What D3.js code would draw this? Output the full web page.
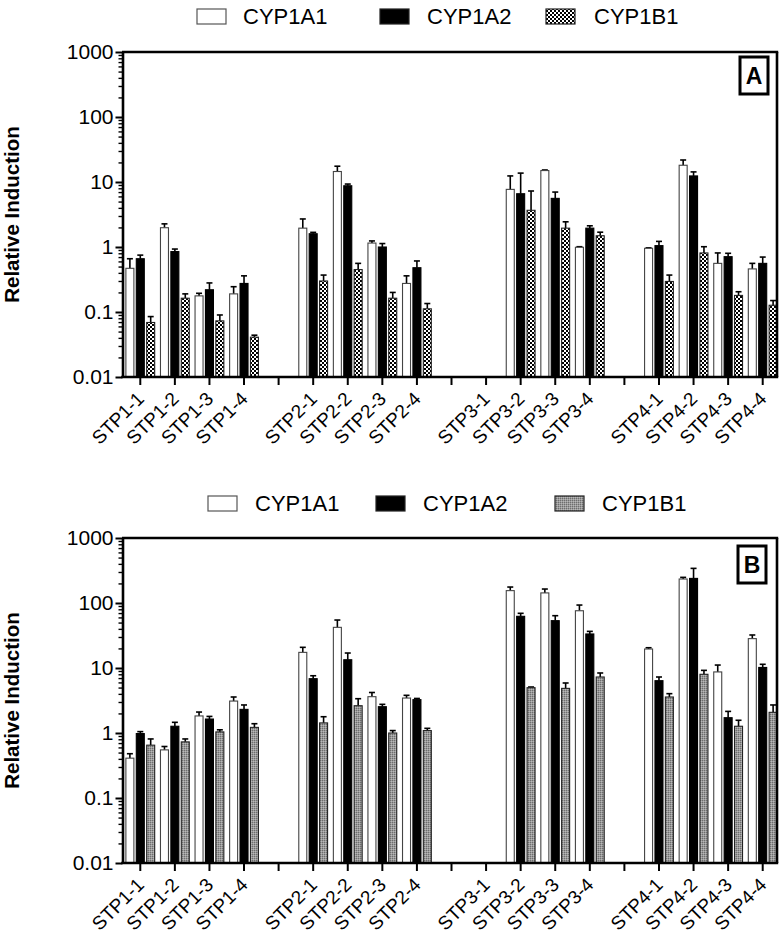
<!DOCTYPE html>
<html>
<head>
<meta charset="utf-8">
<script src="https://cdn.jsdelivr.net/npm/d3@7"></script>
<style>
  html, body { margin: 0; padding: 0; background: #fff; }
  svg { display: block; font-family: "Liberation Sans", Arial, sans-serif; }
</style>
</head>
<body>
<svg id="chart" width="779" height="936"></svg>
<script>
// ---------------- data ----------------
const categories = ["STP1-1","STP1-2","STP1-3","STP1-4","",
                    "STP2-1","STP2-2","STP2-3","STP2-4","",
                    "STP3-1","STP3-2","STP3-3","STP3-4","",
                    "STP4-1","STP4-2","STP4-3","STP4-4"];
const seriesNames = ["CYP1A1","CYP1A2","CYP1B1"];
const yTickValues = [0.01, 0.1, 1, 10, 100, 1000];
const yTickLabels = ["0.01","0.1","1","10","100","1000"];

// Panel A
const A_CYP1A1     = [0.47, 1.98, 0.177, 0.19, null, 1.95, 14.5, 1.15, 0.275, null, null, 7.7, 15.0, 0.99, null, 0.955, 18.1, 0.56, 0.46];
const A_CYP1A1_err = [0.19, 0.29, 0.017, 0.055, null, 0.75, 3.0, 0.09, 0.085, null, null, 4.7, 0.3, 0.02, null, 0.015, 3.7, 0.25, 0.10];
const A_CYP1A2     = [0.66, 0.85, 0.22, 0.275, null, 1.6, 8.75, 1.0, 0.48, null, null, 6.6, 5.6, 1.95, null, 1.05, 12.4, 0.71, 0.56];
const A_CYP1A2_err = [0.09, 0.08, 0.06, 0.085, null, 0.08, 0.55, 0.13, 0.13, null, null, 7.1, 1.4, 0.17, null, 0.17, 1.9, 0.09, 0.14];
const A_CYP1B1     = [0.069, 0.163, 0.073, 0.041, null, 0.30, 0.45, 0.163, 0.112, null, null, 3.67, 1.95, 1.49, null, 0.295, 0.81, 0.18, 0.127];
const A_CYP1B1_err = [0.016, 0.027, 0.017, 0.003, null, 0.07, 0.11, 0.037, 0.023, null, null, 3.6, 0.49, 0.2, null, 0.075, 0.2, 0.025, 0.023];

// Panel B
const B_CYP1A1     = [0.41, 0.55, 1.83, 3.1, null, 17.4, 42.2, 3.62, 3.45, null, null, 155, 143, 76, null, 19.6, 234, 8.7, 28.3];
const B_CYP1A1_err = [0.07, 0.07, 0.27, 0.48, null, 3.4, 12.5, 0.58, 0.35, null, null, 21, 21, 17, null, 0.9, 14, 2.4, 3.9];
const B_CYP1A2     = [0.98, 1.27, 1.64, 2.31, null, 6.85, 13.4, 2.54, 3.26, null, null, 62.4, 53.5, 33.4, null, 6.38, 239, 1.72, 10.2];
const B_CYP1A2_err = [0.07, 0.19, 0.16, 0.39, null, 0.75, 3.6, 0.22, 0.14, null, null, 7, 10.3, 3.2, null, 0.89, 102, 0.43, 1.2];
const B_CYP1B1     = [0.65, 0.73, 1.04, 1.22, null, 1.43, 2.63, 1.0, 1.09, null, null, 4.98, 4.86, 7.27, null, 3.58, 8.0, 1.27, 2.08];
const B_CYP1B1_err = [0.16, 0.08, 0.08, 0.17, null, 0.35, 0.74, 0.09, 0.09, null, null, 0.12, 1.02, 1.11, null, 0.45, 1.2, 0.3, 0.62];

// ---------------- drawing ----------------
const svg = d3.select("#chart");
const defs = svg.append("defs");

// checkerboard pattern (panel A)
const pa = defs.append("pattern").attr("id","checker").attr("patternUnits","userSpaceOnUse")
  .attr("width",4).attr("height",4);
pa.append("rect").attr("width",4).attr("height",4).attr("fill","#fff");
pa.append("rect").attr("width",2).attr("height",2).attr("fill","#000");
pa.append("rect").attr("x",2).attr("y",2).attr("width",2).attr("height",2).attr("fill","#000");

// fine gray pattern (panel B)
const pb = defs.append("pattern").attr("id","gray").attr("patternUnits","userSpaceOnUse")
  .attr("width",2).attr("height",2);
pb.append("rect").attr("width",2).attr("height",2).attr("fill","#9a9a9a");
pb.append("rect").attr("width",1).attr("height",1).attr("fill","#6e6e6e");
pb.append("rect").attr("x",1).attr("y",1).attr("width",1).attr("height",1).attr("fill","#b8b8b8");

const xLeft = 123, xRight = 780, frameRight = 777;
const x = d3.scaleBand().domain(d3.range(categories.length)).range([xLeft, xRight]).padding(0);
const xs = d3.scaleBand().domain(seriesNames).range([-14.4, 14.4]).paddingInner(0.23).paddingOuter(0);

function drawPanel(cfg) {
  const g = svg.append("g");
  const y = d3.scaleLog().domain([0.01, 1000]).range([cfg.bottom, cfg.top]);

  // legend
  const fills = ["#fff", "#000", cfg.pattern];
  seriesNames.forEach((name, i) => {
    g.append("rect").attr("x", cfg.legBox[i]).attr("y", cfg.legY - 15)
      .attr("width", 29).attr("height", 15)
      .attr("fill", fills[i]).attr("stroke", i === 0 ? "#555" : "#222").attr("stroke-width", 1.2);
    g.append("text").attr("x", cfg.legText[i]).attr("y", cfg.legY)
      .attr("font-size", 22).attr("fill", "#000").text(name);
  });

  // bars
  const series = [
    {name: seriesNames[0], vals: cfg.s1, err: cfg.e1, fill: "#fff", stroke: "#444"},
    {name: seriesNames[1], vals: cfg.s2, err: cfg.e2, fill: "#000", stroke: "#000"},
    {name: seriesNames[2], vals: cfg.s3, err: cfg.e3, fill: cfg.pattern, stroke: "#222"}
  ];
  series.forEach(s => {
    const data = s.vals.map((v, i) => ({i, v, e: s.err[i]})).filter(d => d.v != null);
    const cx = d => x(d.i) + x.bandwidth() / 2 + xs(s.name) + xs.bandwidth() / 2;
    // error bars
    g.selectAll(null).data(data).enter().append("line")
      .attr("x1", cx).attr("x2", cx)
      .attr("y1", d => y(d.v)).attr("y2", d => y(d.v + d.e))
      .attr("stroke", "#000").attr("stroke-width", 1.6);
    g.selectAll(null).data(data).enter().append("line")
      .attr("x1", d => cx(d) - 3).attr("x2", d => cx(d) + 3)
      .attr("y1", d => y(d.v + d.e)).attr("y2", d => y(d.v + d.e))
      .attr("stroke", "#000").attr("stroke-width", 1.6);
    g.selectAll(null).data(data).enter().append("rect")
      .attr("x", d => x(d.i) + x.bandwidth() / 2 + xs(s.name))
      .attr("width", xs.bandwidth())
      .attr("y", d => y(d.v))
      .attr("height", d => y(0.01) - y(d.v))
      .attr("fill", s.fill).attr("stroke", s.stroke).attr("stroke-width", 1.1);
  });

  // frame top and right
  g.append("line").attr("x1", xLeft - 1).attr("x2", frameRight + 1.2)
    .attr("y1", cfg.top).attr("y2", cfg.top).attr("stroke", "#000").attr("stroke-width", 2.6);
  g.append("line").attr("x1", frameRight).attr("x2", frameRight)
    .attr("y1", cfg.top).attr("y2", cfg.bottom).attr("stroke", "#000").attr("stroke-width", 2.6);

  // minor y ticks
  const minor = [];
  for (let e = -2; e < 3; e++) for (let k = 2; k <= 9; k++) minor.push(k * Math.pow(10, e));
  const yMinor = g.append("g").attr("transform", `translate(${xLeft - 0.5},0)`)
    .call(d3.axisLeft(y).tickValues(minor).tickSize(4).tickFormat(""));
  yMinor.select(".domain").remove();
  yMinor.selectAll("line").attr("stroke-width", 1.4);

  // major y axis
  const yAx = g.append("g").attr("transform", `translate(${xLeft - 0.5},0)`)
    .call(d3.axisLeft(y).tickValues(yTickValues).tickSize(7).tickSizeOuter(0).tickPadding(2)
      .tickFormat((d, i) => yTickLabels[i]));
  yAx.select(".domain").attr("stroke-width", 2.6);
  yAx.selectAll("line").attr("stroke-width", 2);
  yAx.selectAll("text").attr("font-size", 21).attr("fill", "#000").attr("font-family", "Liberation Sans, Arial, sans-serif");

  // x axis
  const xAx = g.append("g").attr("transform", `translate(0,${cfg.bottom})`)
    .call(d3.axisBottom(x).tickSize(8).tickSizeOuter(0).tickFormat(i => categories[i]));
  xAx.select(".domain").attr("stroke-width", 2.6).attr("d", `M${xLeft - 1.8},0H${frameRight + 1.2}`);
  xAx.selectAll("line").attr("stroke-width", 2);
  xAx.selectAll("text")
    .attr("font-size", 19).attr("fill", "#000").attr("font-family", "Liberation Sans, Arial, sans-serif")
    .attr("text-anchor", "end")
    .attr("dy", null).attr("y", 0)
    .attr("transform", "translate(5,23) rotate(-45)");

  // y label
  g.append("text")
    .attr("transform", `translate(19,${(cfg.top + cfg.bottom) / 2}) rotate(-90)`)
    .attr("text-anchor", "middle").attr("font-size", 20.5).attr("font-weight", "bold")
    .text("Relative Induction");

  // panel letter box
  g.append("rect").attr("x", cfg.boxX).attr("y", cfg.boxY).attr("width", 28).attr("height", 37)
    .attr("fill", "#fff").attr("stroke", "#000").attr("stroke-width", 3);
  g.append("text").attr("x", cfg.boxX + 14).attr("y", cfg.boxY + 27)
    .attr("text-anchor", "middle").attr("font-size", 23).attr("font-weight", "bold").text(cfg.letter);
}

drawPanel({top: 52, bottom: 377, s1: A_CYP1A1, e1: A_CYP1A1_err, s2: A_CYP1A2, e2: A_CYP1A2_err,
  s3: A_CYP1B1, e3: A_CYP1B1_err, pattern: "url(#checker)", letter: "A", boxX: 740, boxY: 57,
  legY: 24, legBox: [197, 380, 546], legText: [243, 427, 594]});
drawPanel({top: 538, bottom: 863, s1: B_CYP1A1, e1: B_CYP1A1_err, s2: B_CYP1A2, e2: B_CYP1A2_err,
  s3: B_CYP1B1, e3: B_CYP1B1_err, pattern: "url(#gray)", letter: "B", boxX: 738, boxY: 546,
  legY: 511, legBox: [208, 376, 555], legText: [255, 423, 602]});
</script>
</body>
</html>
